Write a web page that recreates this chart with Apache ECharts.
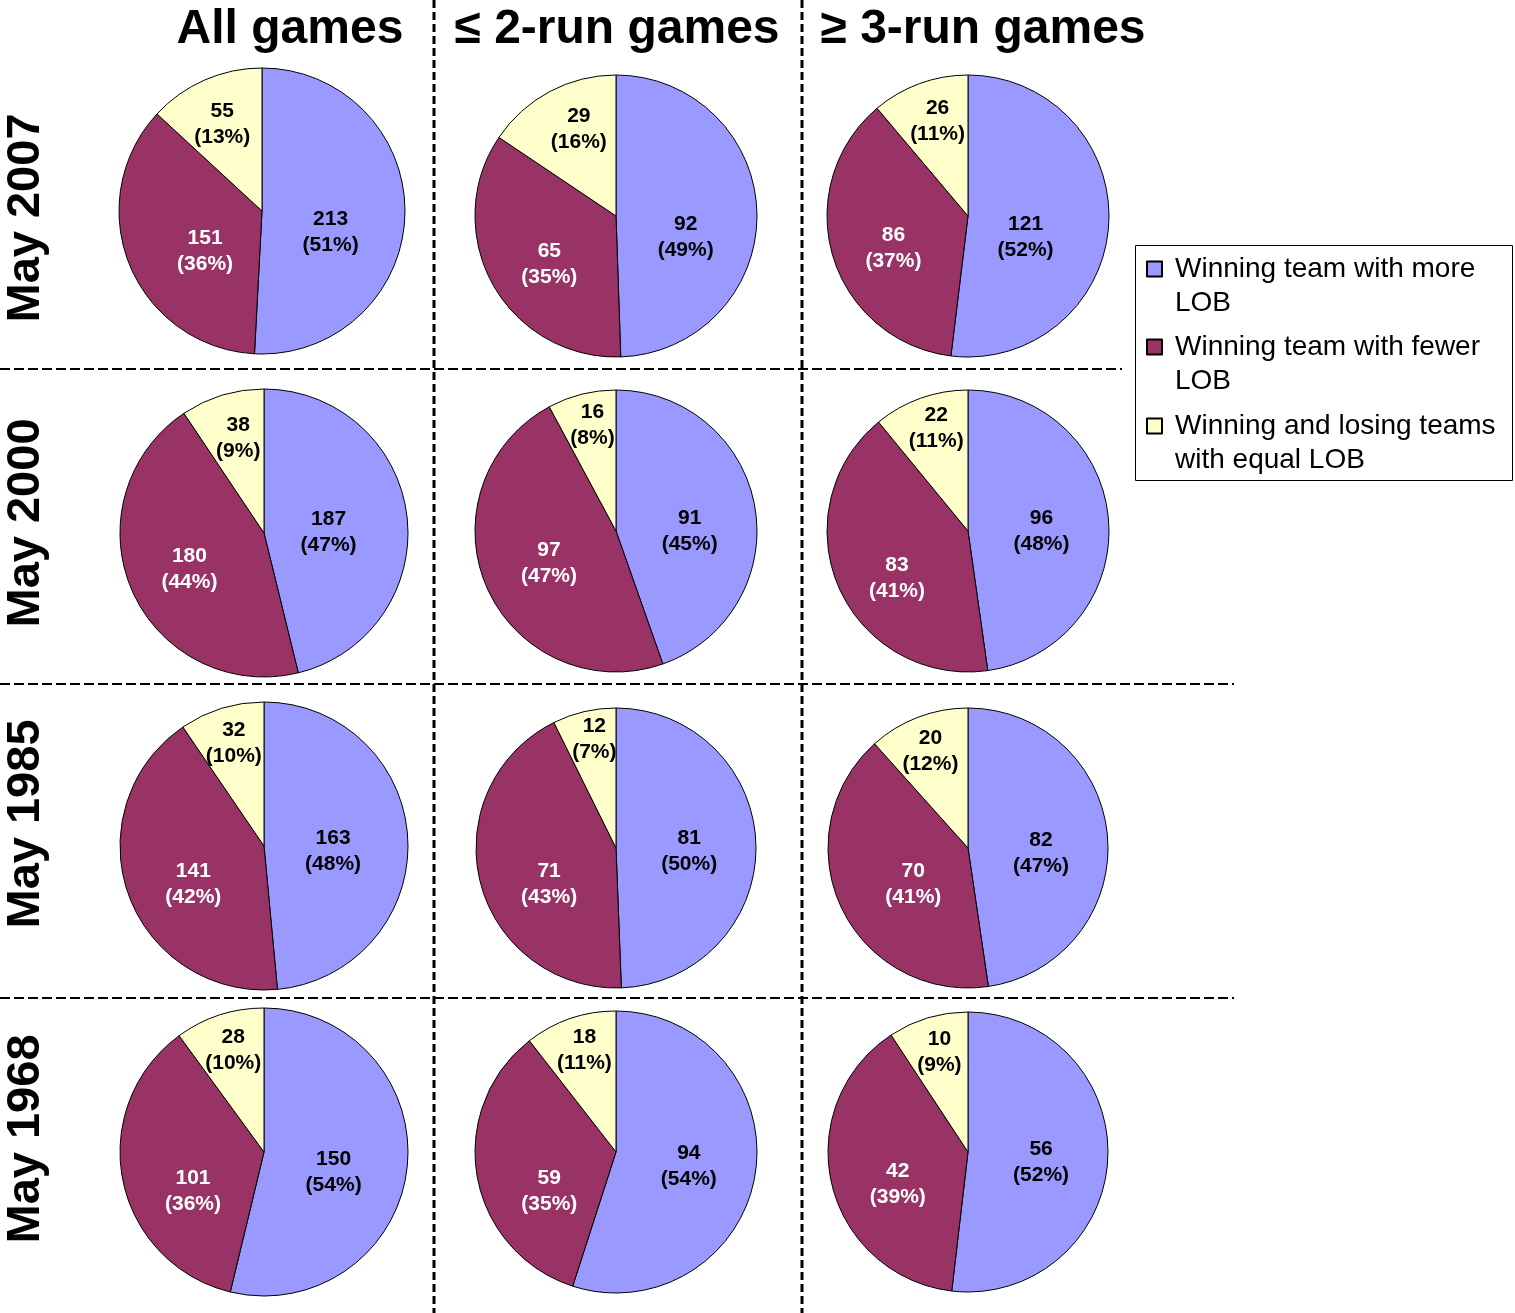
<!DOCTYPE html>
<html><head><meta charset="utf-8">
<script src="https://cdn.jsdelivr.net/npm/echarts@6/dist/echarts.min.js"></script>
<style>html,body{margin:0;padding:0;background:#fff}#c{width:1515px;height:1313px}</style>
</head><body><div id="c"></div>
<script>
// ---- data ----
const rowNames = ['May 2007', 'May 2000', 'May 1985', 'May 1968'];
const colNames = ['All games', '\u2264 2-run games', '\u2265 3-run games'];
const seriesNames = ['Winning team with more LOB', 'Winning team with fewer LOB', 'Winning and losing teams with equal LOB'];
const legendLabels = ['Winning team with more\nLOB', 'Winning team with fewer\nLOB', 'Winning and losing teams\nwith equal LOB'];
const moreLOB  = [[213, 92, 121], [187, 91, 96], [163, 81, 82], [150, 94, 56]];
const fewerLOB = [[151, 65, 86], [180, 97, 83], [141, 71, 70], [101, 59, 42]];
const equalLOB = [[55, 29, 26], [38, 16, 22], [32, 12, 20], [28, 18, 10]];
const morePct  = [[51, 49, 52], [47, 45, 48], [48, 50, 47], [54, 54, 52]];
const fewerPct = [[36, 35, 37], [44, 47, 41], [42, 43, 41], [36, 35, 39]];
const equalPct = [[13, 16, 11], [9, 8, 11], [10, 7, 12], [10, 11, 9]];

// ---- layout / style ----
const FONT = '"Liberation Sans", Arial, sans-serif';
const colors = ['#9999FF', '#993366', '#FFFFCC'];
const labelColors = ['#000', '#fff', '#000'];
const pieLayout = [
  [[262, 211, 143], [616, 216, 141], [968, 216, 141]],
  [[264, 533, 144], [616, 531, 141], [968, 531, 141]],
  [[264, 846, 144], [616, 848, 140], [968, 848, 140]],
  [[264, 1152, 144], [616, 1152, 141], [968, 1152, 140]]
];
const titleX = [290, 617, 983];
const rowLabelY = [218, 523, 824, 1139];
const legendIconY = [269, 347, 426];
// label nudges (pixels) relative to the library's 'inside' label position
const labelNudge = [
  [[[-3, 9], [-1, 12], [-13, 7]], [[-7, -2], [4, 2], [3, -5]], [[-3, -1], [3, -5], [3, 0]], [[-2, 2], [3, -7], [3, -4]]],
  [[[20, 5], [5, 4], [4, 5]], [[2, -2], [8, -5], [4, 10]], [[8, 6], [12, 12], [19, -2]], [[11, 19], [14, 21], [9, 9]]],
  [[[1, 6], [10, 2], [4, -1]], [[4, 3], [1, -9], [2, -8]], [[0, -5], [1, -12], [-2, -4]], [[1, -4], [1, -7], [0, -4]]]
];

const vals = [moreLOB, fewerLOB, equalLOB];
const pcts = [morePct, fewerPct, equalPct];

const series = [];
for (let r = 0; r < 4; r++) {
  for (let c = 0; c < 3; c++) {
    const [cx, cy, R] = pieLayout[r][c];
    series.push({
      type: 'pie', center: [cx, cy], radius: [0, R], startAngle: 90, clockwise: true,
      silent: true, animation: false, avoidLabelOverlap: false,
      label: { show: false }, labelLine: { show: false }, emphasis: { disabled: true },
      itemStyle: { borderColor: '#000', borderWidth: 1 },
      data: [0, 1, 2].map(k => ({ name: seriesNames[k], value: vals[k][r][c], itemStyle: { color: colors[k] } }))
    });
  }
}
// label overlays
const ringSpec = [[0, 0.96], [0.12, 1.0], [0.38, 1.0]];
const labelDy = [10, 4, 0];
for (let r = 0; r < 4; r++) {
  for (let c = 0; c < 3; c++) {
    const [cx, cy, R] = pieLayout[r][c];
    for (let k = 0; k < 3; k++) {
      const nudge = labelNudge[k][r][c];
      series.push({
        type: 'pie', center: [cx, cy], radius: [ringSpec[k][0] * R, ringSpec[k][1] * R],
        startAngle: 90, clockwise: true, silent: true, animation: false, avoidLabelOverlap: false,
        emphasis: { disabled: true }, labelLine: { show: false }, z: 5,
        itemStyle: { color: 'rgba(0,0,0,0)', borderWidth: 0 },
        labelLayout: { dx: nudge[0], dy: labelDy[k] + nudge[1] },
        data: [0, 1, 2].map(j => ({
          name: seriesNames[j], value: vals[j][r][c],
          label: j === k ? {
            show: true, position: 'inside',
            formatter: vals[j][r][c] + '\n(' + pcts[j][r][c] + '%)',
            color: labelColors[j], fontFamily: FONT, fontWeight: 'bold', fontSize: 21, lineHeight: 26
          } : { show: false }
        }))
      });
    }
  }
}

const graphics = [];
// dashed separators
graphics.push({ type: 'line', shape: { x1: 434, y1: 0, x2: 434, y2: 1313 }, style: { stroke: '#000', lineWidth: 3, lineDash: [8, 4] } });
graphics.push({ type: 'line', shape: { x1: 802, y1: 0, x2: 802, y2: 1313 }, style: { stroke: '#000', lineWidth: 3, lineDash: [8, 4] } });
graphics.push({ type: 'line', shape: { x1: 0, y1: 369, x2: 1122, y2: 369 }, style: { stroke: '#000', lineWidth: 2, lineDash: [10, 4] } });
graphics.push({ type: 'line', shape: { x1: 0, y1: 684, x2: 1234, y2: 684 }, style: { stroke: '#000', lineWidth: 2, lineDash: [10, 4] } });
graphics.push({ type: 'line', shape: { x1: 0, y1: 998, x2: 1234, y2: 998 }, style: { stroke: '#000', lineWidth: 2, lineDash: [10, 4] } });
// column titles
colNames.forEach((t, i) => graphics.push({
  type: 'text', x: titleX[i], y: 30,
  style: { text: t, fill: '#000', fontFamily: FONT, fontWeight: 'bold', fontSize: 48, align: 'center', verticalAlign: 'middle' }
}));
// row titles
rowNames.forEach((t, i) => graphics.push({
  type: 'text', x: 26, y: rowLabelY[i], rotation: Math.PI / 2,
  style: { text: t, fill: '#000', fontFamily: FONT, fontWeight: 'bold', fontSize: 47, align: 'center', verticalAlign: 'middle' }
}));
// legend frame
graphics.push({ type: 'rect', shape: { x: 1135.5, y: 245.5, width: 377, height: 235 }, style: { fill: 'none', stroke: '#000', lineWidth: 1 }, z: 0 });

const legends = [0, 1, 2].map(i => ({
  data: [seriesNames[i]], left: 1146, top: legendIconY[i] - 51, orient: 'vertical',
  itemWidth: 15, itemHeight: 15, padding: 0, selectedMode: false, icon: 'rect',
  formatter: () => '\n' + legendLabels[i],
  textStyle: { fontFamily: FONT, fontSize: 28, lineHeight: 34, color: '#000', padding: [0, 0, 0, 8] }
}));

const chart = echarts.init(document.getElementById('c'), null, { renderer: 'canvas' });
chart.setOption({
  backgroundColor: '#fff',
  animation: false,
  legend: legends,
  graphic: graphics,
  series: series
});
</script></body></html>
